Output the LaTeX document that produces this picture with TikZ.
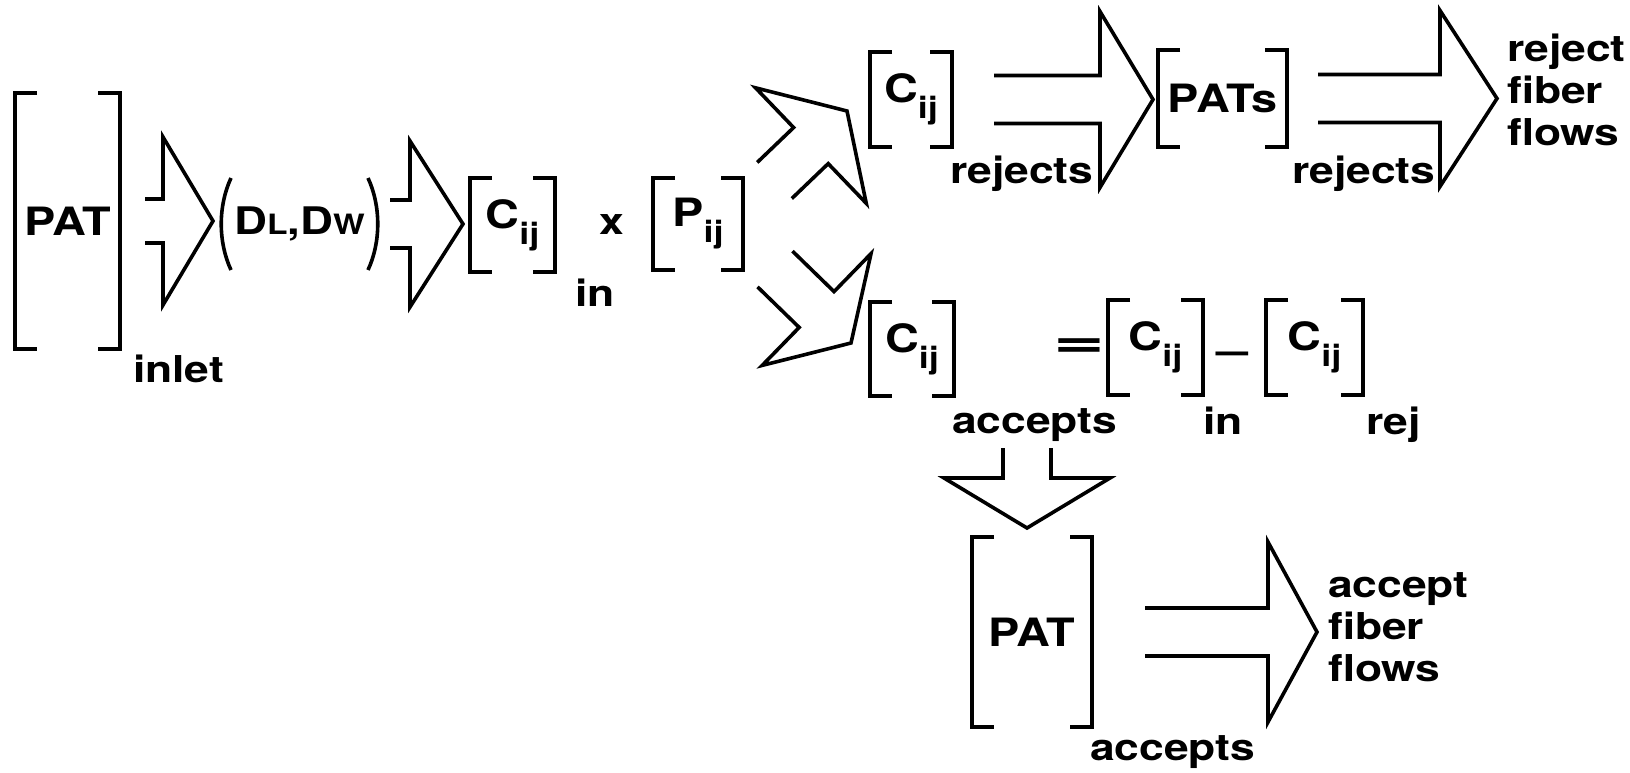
\documentclass[tikz,border=0pt]{standalone}
\usepackage{fontspec}
\setmainfont{TeX Gyre Heros}[FakeStretch=1.2]
\usetikzlibrary{calc,positioning}
\newcommand\lblfont{\fontsize{37pt}{42pt}\selectfont\bfseries}
\newcommand\matfont{\fontsize{39pt}{42pt}\selectfont\bfseries}
\newcommand\sub[1]{\raisebox{-16pt}{\fontsize{30pt}{30pt}\selectfont #1}}
\newcommand\smc[1]{{\fontsize{28pt}{28pt}\selectfont #1}}
\tikzset{
  ink/.style={line width=3.6pt,black},
  mat/.style 2 args={minimum width=#1pt,minimum height=#2pt,font=\matfont},
  lbl/.style={anchor=base west},
}
% square brackets round a matrix node
\newcommand\matbrk[1]{%
  \draw[ink] ([xshift=22pt]#1.north west) -- (#1.north west) -- (#1.south west) -- ([xshift=22pt]#1.south west);
  \draw[ink] ([xshift=-22pt]#1.north east) -- (#1.north east) -- (#1.south east) -- ([xshift=-22pt]#1.south east);}
\newcommand\parens[1]{%
  \draw[ink] ([xshift=10pt]#1.north west) .. controls ([xshift=-3pt,yshift=-28pt]#1.north west) and ([xshift=-3pt,yshift=28pt]#1.south west) .. ([xshift=10pt]#1.south west);
  \draw[ink] ([xshift=-10pt]#1.north east) .. controls ([xshift=3pt,yshift=-28pt]#1.north east) and ([xshift=3pt,yshift=28pt]#1.south east) .. ([xshift=-10pt]#1.south east);}
% hollow flow arrow: tail, tip, half shaft, half head, head length
\newcommand\fatarr[5]{%
  \coordinate (fa) at ($(#2)!#5!(#1)$);
  \draw[ink] ($(#1)!#3!90:(#2)$) -- ($(fa)!#3!90:(#2)$) -- ($(fa)!#4!90:(#2)$) -- (#2)
    -- ($(fa)!#4!-90:(#2)$) -- ($(fa)!#3!-90:(#2)$) -- ($(#1)!#3!-90:(#2)$);}

\begin{document}
\begin{tikzpicture}[x=1pt,y=-1pt,
  every node/.style={inner sep=0pt,outer sep=0pt,font=\lblfont}]
\useasboundingbox (0,0) rectangle (1630,773);

\node[mat={105}{256}] (pat) at (67.5,221) {PAT};
\node[lbl] (inlet) at ($(pat.south east)+(13,33)$) {inlet};
\node[mat={157}{92},font=\fontsize{38pt}{38pt}\selectfont\bfseries] (dldw) at (299.5,224) {D\smc{L},D\smc{W}};
\node[mat={85}{94}] (cin) at (512.5,225) {C\sub{ij}};
\node[lbl] (inA) at ($(cin.south east)+(20,34)$) {in};
\node (times) at (612,225) {x};
\node[mat={90}{92}] (pij) at (698,224) {P\sub{ij}};

\node[mat={82}{95}] (crej) at (911,99.5) {C\sub{ij}};
\node[lbl] (rejA) at ($(crej.south east)+(-2,36)$) {rejects};
\node[mat={129}{97}] (pats) at (1222.5,98.5) {PATs};
\node[lbl] (rejB) at ($(pats.south east)+(5,36)$) {rejects};
\node[anchor=north west,align=left] (rflow) at (1507,34) {reject\\fiber\\flows};

\node[mat={84}{94}] (cacc) at (912,349) {C\sub{ij}};
\node[lbl] (accA) at ($(cacc.south east)+(-2,37)$) {accepts};
\node (eq) at (1079,348) {\scalebox{2}[1.3]{=}};
\node[mat={95}{95}] (cinB) at (1155.5,347.5) {C\sub{ij}};
\node[lbl] (inB) at ($(cinB.south east)+(0,39)$) {in};
\node (minus) at (1233,358) {\scalebox{1.3}[1]{--}};
\node[mat={97}{95}] (crejB) at (1314.5,347.5) {C\sub{ij}};
\node[lbl] (rejC) at ($(crejB.south east)+(3,39)$) {rej};

\node[mat={120}{190}] (patB) at (1032,632) {PAT};
\node[lbl] (accB) at ($(patB.south east)+(-2,33)$) {accepts};
\node[anchor=north west,align=left] (aflow) at (1328,573) {accept\\fiber\\flows};

\foreach \n in {pat,cin,pij,crej,pats,cacc,cinB,crejB,patB} {\matbrk{\n}}
\parens{dldw}

% flow arrows
\coordinate (a1t) at ([xshift=25pt]pat.east);
\coordinate (a1h) at ($(a1t -| dldw.west)+(-8,0)$);
\fatarr{a1t}{a1h}{22pt}{84pt}{50pt}
\coordinate (a2t) at ([xshift=12pt]dldw.east);
\coordinate (a2h) at ($(a2t -| cin.west)+(-7,0)$);
\fatarr{a2t}{a2h}{24pt}{83pt}{53pt}
\coordinate (upt) at ($(pij.east)+(31.5,-43.5)$);
\coordinate (uph) at ($(crej.west)+(-23,11.5)$);
\fatarr{upt}{uph}{25pt}{80pt}{50pt}
\coordinate (lot) at ($(pij.east)+(32,45)$);
\coordinate (loh) at ($(cacc.west)+(-19,-6)$);
\fatarr{lot}{loh}{25pt}{78pt}{48pt}
\coordinate (a3t) at ([xshift=42pt]crej.east);
\coordinate (a3h) at ($(a3t -| pats.west)+(-5,0)$);
\fatarr{a3t}{a3h}{24pt}{88pt}{53pt}
\coordinate (a4t) at ([xshift=31pt]pats.east);
\coordinate (a4h) at ($(a4t -| rflow.west)+(-10,0)$);
\fatarr{a4t}{a4h}{24pt}{88pt}{57pt}
\coordinate (a5t) at ($(accA.base west)+(75,15)$);
\coordinate (a5h) at ($(a5t |- patB.north)+(0,-9)$);
\fatarr{a5t}{a5h}{24pt}{83pt}{50pt}
\coordinate (a6t) at ([xshift=53pt]patB.east);
\coordinate (a6h) at ($(a6t -| aflow.west)+(-11,0)$);
\fatarr{a6t}{a6h}{24pt}{90pt}{49pt}
\end{tikzpicture}
\end{document}
